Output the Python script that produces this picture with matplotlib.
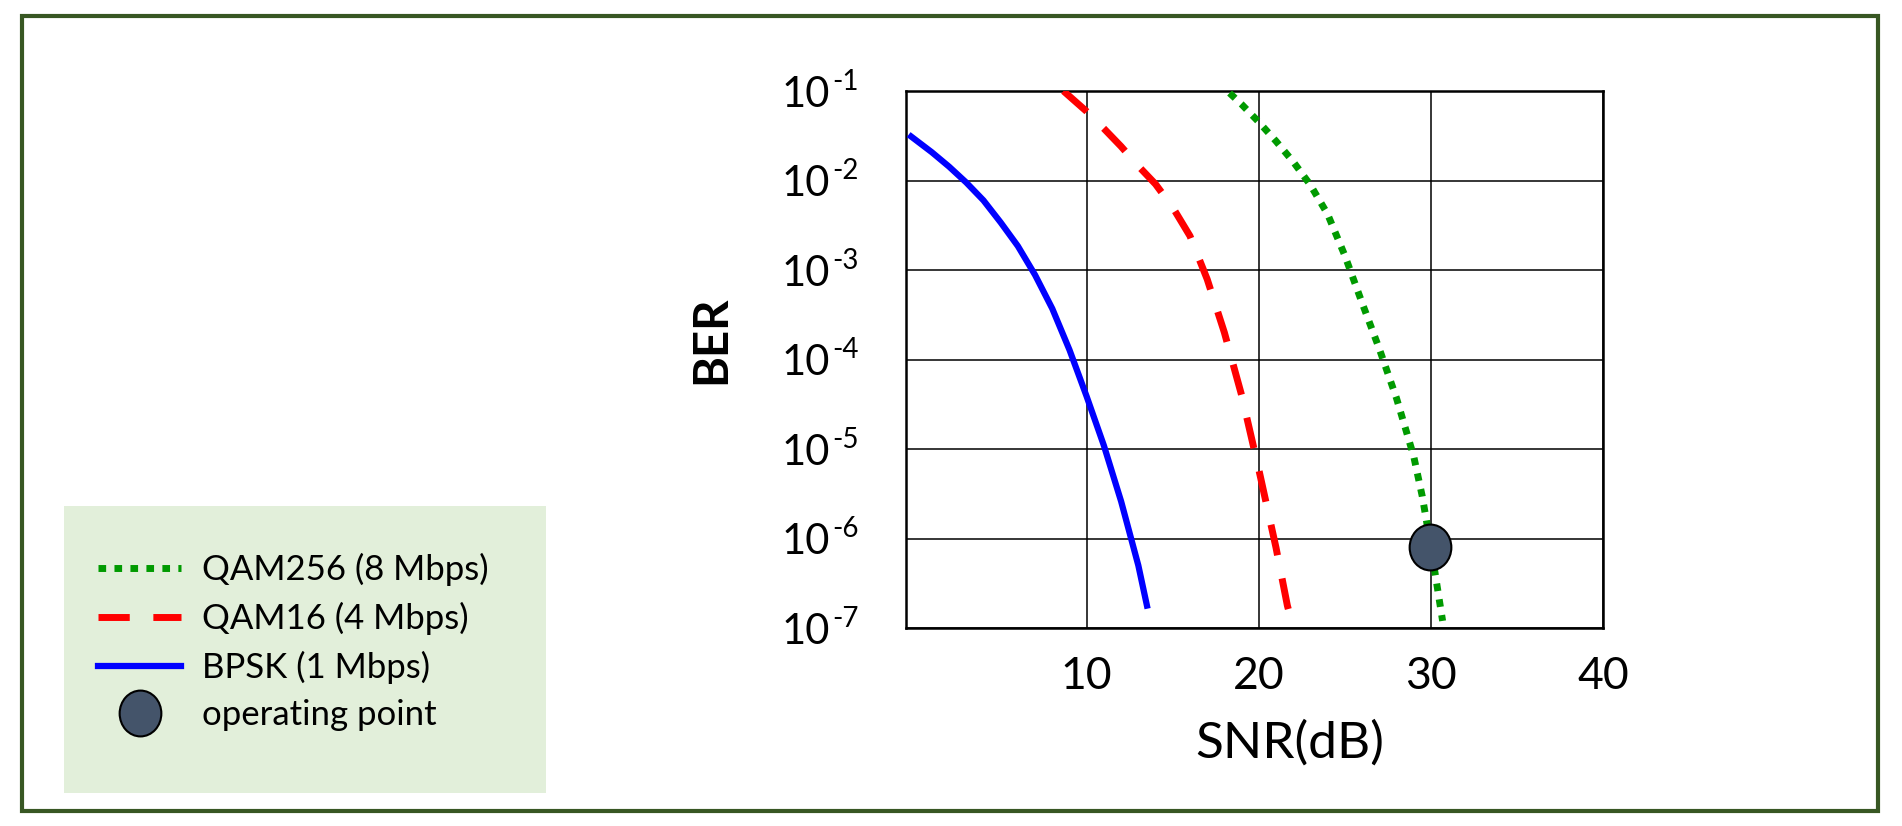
import numpy as np
import matplotlib
matplotlib.use("Agg")
import matplotlib.pyplot as plt
from matplotlib.path import Path
from matplotlib.patches import Rectangle
from matplotlib.ticker import FixedLocator, FixedFormatter

plt.rcParams['font.family'] = ['Lato', 'DejaVu Sans']

# curves (SNR in dB, BER)
bpsk_snr = [-0.2, 1, 2, 3, 4, 5, 6, 7, 8, 9, 10, 11, 12, 13, 13.5]
bpsk_ber = [3.1e-2, 2.07e-2, 1.43e-2, 9.5e-3, 6.0e-3, 3.4e-3, 1.85e-3, 8.8e-4, 3.7e-4, 1.28e-4,
            3.85e-5, 1.09e-5, 2.6e-6, 5.0e-7, 1.78e-7]

qam16_snr = [8.65, 10, 11, 12, 13, 14, 15, 16, 17, 18, 19, 20, 21, 21.66, 21.9]
qam16_ber = [1.0e-1, 5.9e-2, 3.8e-2, 2.4e-2, 1.45e-2, 9.1e-3, 5.0e-3, 2.4e-3, 7.9e-4, 2.0e-4,
             4.0e-5, 5.9e-6, 7.9e-7, 1.78e-7, 1.2e-7]

qam256_snr = [18.3, 19, 20, 21, 22, 23, 24, 25, 26, 27, 28, 29, 29.5, 30, 30.68]
qam256_ber = [9.5e-2, 7.1e-2, 4.5e-2, 2.75e-2, 1.62e-2, 8.9e-3, 4.2e-3, 1.45e-3, 4.3e-4, 1.32e-4,
              3.7e-5, 8.3e-6, 2.95e-6, 8.1e-7, 1.2e-7]

op_snr = [29.94]
op_ber = [8.1e-7]

x_ticks = [10, 20, 30, 40]
y_ticks = [1e-1, 1e-2, 1e-3, 1e-4, 1e-5, 1e-6, 1e-7]
y_exps = ['-1', '-2', '-3', '-4', '-5', '-6', '-7']

legend_labels = ['QAM256 (8 Mbps)', 'QAM16 (4 Mbps)', 'BPSK (1 Mbps)', 'operating point']

W, H = 1902, 826
fig = plt.figure(figsize=(W / 100, H / 100), dpi=100)

# outer green frame
fig.patches.append(Rectangle((22 / W, 1 - 811 / H), (1878 - 22) / W, (811 - 16) / H,
                             transform=fig.transFigure, fill=False,
                             edgecolor='#385723', linewidth=3))
# legend background
fig.patches.append(Rectangle((64 / W, 1 - 793 / H), (546 - 64) / W, (793 - 506) / H,
                             transform=fig.transFigure, facecolor='#e2efda',
                             edgecolor='none'))

ax = fig.add_axes([906 / W, 1 - 628 / H, (1603 - 906) / W, (628 - 91) / H])

circ = Path.unit_circle()
ellipse = Path(circ.vertices * np.array([0.91, 1.0]), circ.codes)

green = '#009a00'
l1, = ax.plot(qam256_snr, qam256_ber, color=green, lw=5, linestyle=(0, (1.1, 1.2)),
              dash_capstyle='butt', zorder=3)
l2, = ax.plot(qam16_snr, qam16_ber, color='#ff0000', lw=5, linestyle=(0, (4.5, 3.4)),
              dash_capstyle='butt', zorder=3)
l3, = ax.plot(bpsk_snr, bpsk_ber, color='#0000ff', lw=4.5, zorder=3)
l4, = ax.plot(op_snr, op_ber, linestyle='none', marker=ellipse, markersize=33,
              markerfacecolor='#44546a', markeredgecolor='black', markeredgewidth=1.5,
              zorder=4)

ax.set_yscale('log')
ax.set_xlim(-0.5, 40)
ax.set_ylim(1e-7, 1e-1)
ax.xaxis.set_major_locator(FixedLocator(x_ticks))
ax.yaxis.set_major_locator(FixedLocator(y_ticks))
ax.yaxis.set_major_formatter(FixedFormatter(['10'] * len(y_ticks)))
ax.yaxis.set_minor_locator(FixedLocator([]))
ax.tick_params(axis='both', length=0)
ax.tick_params(axis='x', pad=20, labelsize=32)
ax.tick_params(axis='y', pad=55, labelsize=30)
ax.grid(True, color='black', linewidth=1.1)
ax.set_axisbelow(True)
for s in ax.spines.values():
    s.set_linewidth(1.8)

# exponents sit next to the "10" of every y tick
for v, e in zip(y_ticks, y_exps):
    ax.annotate(e, xy=(0, v), xycoords=ax.get_yaxis_transform(),
                xytext=(-53, 1), textcoords='offset points',
                ha='left', va='baseline', fontsize=20)

ax.set_xlabel('SNR(dB)', fontsize=37, va='center')
ax.xaxis.set_label_coords(0.551, -0.215)
ax.set_ylabel('BER', fontsize=34, fontweight='bold', va='center')
ax.yaxis.set_label_coords(-0.28, 0.536)

fig.legend([l1, l2, l3, l4], legend_labels, loc='upper left',
           bbox_to_anchor=(98 / W, 1 - 553 / H), bbox_transform=fig.transFigure,
           frameon=False, borderpad=0, borderaxespad=0, fontsize=25,
           handlelength=2.4, handletextpad=0.6, labelspacing=0.45, numpoints=1)

fig.savefig('out.png', dpi=100)
